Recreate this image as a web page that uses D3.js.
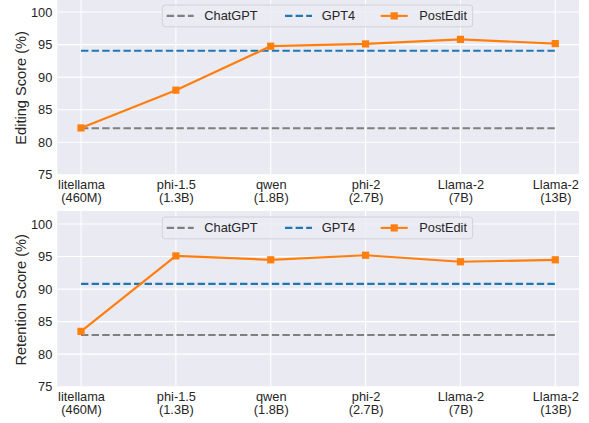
<!DOCTYPE html>
<html>
<head>
<meta charset="utf-8">
<script src="https://cdn.jsdelivr.net/npm/d3@7"></script>
<style>
  html, body { margin: 0; padding: 0; background: #ffffff; }
  svg { display: block; }
  text { font-family: "Liberation Sans", Arial, sans-serif; fill: #262626; }
</style>
</head>
<body>
<svg id="chart" width="589" height="423"></svg>
<script>
// ---- data ----
const modelNames = ["litellama", "phi-1.5", "qwen", "phi-2", "Llama-2", "Llama-2"];
const modelSizes = ["(460M)", "(1.3B)", "(1.8B)", "(2.7B)", "(7B)", "(13B)"];
const yTicks = [75, 80, 85, 90, 95, 100];

const editingChatGPT = 82.15;
const editingGPT4 = 94.05;
const editingPostEdit = [82.2, 88.0, 94.75, 95.1, 95.8, 95.15];

const retentionChatGPT = 82.95;
const retentionGPT4 = 90.8;
const retentionPostEdit = [83.5, 95.1, 94.5, 95.2, 94.2, 94.5];

const seriesNames = ["ChatGPT", "GPT4", "PostEdit"];
const colors = { ChatGPT: "#7f7f7f", GPT4: "#1f77b4", PostEdit: "#ff7f0e" };

const panels = [
  { label: "Editing Score (%)", chatgpt: editingChatGPT, gpt4: editingGPT4, post: editingPostEdit, top: -1, bottom: 174.8 },
  { label: "Retention Score (%)", chatgpt: retentionChatGPT, gpt4: retentionGPT4, post: retentionPostEdit, top: 211, bottom: 386.7 }
];

const svg = d3.select("#chart");
const left = 57.3, right = 579;
const idx = d3.range(modelNames.length);
const x = d3.scalePoint().domain(idx).range([left, right]).padding(0.25);

const dash = "7.4,3.2";

panels.forEach(p => {
  const y = d3.scaleLinear().domain([75, 102]).range([p.bottom, p.top]);
  const g = svg.append("g");

  // background
  g.append("rect").attr("x", left).attr("y", y(102)).attr("width", right - left)
    .attr("height", y(75) - y(102)).attr("fill", "#eaeaf2");

  // grid
  g.selectAll(".hg").data(yTicks).enter().append("line")
    .attr("x1", left).attr("x2", right).attr("y1", d => y(d)).attr("y2", d => y(d))
    .attr("stroke", "#ffffff").attr("stroke-width", 1.1);
  g.selectAll(".vg").data(idx).enter().append("line")
    .attr("x1", d => x(d)).attr("x2", d => x(d)).attr("y1", y(75)).attr("y2", y(102))
    .attr("stroke", "#ffffff").attr("stroke-width", 1.1);

  // y axis
  const ya = g.append("g").attr("transform", `translate(${left},0)`)
    .call(d3.axisLeft(y).tickValues(yTicks).tickSize(0).tickPadding(5));
  ya.select(".domain").remove();
  ya.selectAll("text").style("font-family", '"Liberation Sans", Arial, sans-serif')
    .style("font-size", "12.8px").attr("fill", "#262626");

  // x axis (two-line labels as separate text elements)
  const xa = g.append("g").attr("transform", `translate(0,${y(75)})`)
    .call(d3.axisBottom(x).tickSize(0).tickPadding(0).tickFormat(""));
  xa.select(".domain").remove();
  xa.selectAll(".tick").each(function(d) {
    const tk = d3.select(this);
    tk.select("text").remove();
    tk.append("text").attr("x", 0).attr("y", 14.6).attr("text-anchor", "middle")
      .style("font-size", "12.8px").text(modelNames[d]);
    tk.append("text").attr("x", 0).attr("y", 27.4).attr("text-anchor", "middle")
      .style("font-size", "12.8px").text(modelSizes[d]);
  });

  // y label
  g.append("text")
    .attr("transform", `translate(21,${(y(75) + y(102)) / 2 + 1}) rotate(-90)`)
    .attr("text-anchor", "middle").attr("dy", "0.35em").style("font-size", "14.6px")
    .text(p.label);

  // reference lines
  g.append("line").attr("x1", x(0)).attr("x2", x(idx.length - 1))
    .attr("y1", y(p.chatgpt)).attr("y2", y(p.chatgpt))
    .attr("stroke", colors.ChatGPT).attr("stroke-width", 2.1).attr("stroke-dasharray", dash);
  g.append("line").attr("x1", x(0)).attr("x2", x(idx.length - 1))
    .attr("y1", y(p.gpt4)).attr("y2", y(p.gpt4))
    .attr("stroke", colors.GPT4).attr("stroke-width", 2.1).attr("stroke-dasharray", dash);

  // PostEdit line
  const line = d3.line().x((d, i) => x(i)).y(d => y(d));
  g.append("path").datum(p.post).attr("d", line).attr("fill", "none")
    .attr("stroke", colors.PostEdit).attr("stroke-width", 2.2);
  const ms = 7.2;
  g.selectAll(".mk").data(p.post).enter().append("rect")
    .attr("x", (d, i) => x(i) - ms / 2).attr("y", d => y(d) - ms / 2)
    .attr("width", ms).attr("height", ms).attr("fill", colors.PostEdit);

  // legend
  const ly = y(102) + 6;
  const lg = g.append("g").attr("transform", `translate(162.3,${ly})`);
  lg.append("rect").attr("x", 0).attr("y", 0).attr("width", 310.4).attr("height", 21.8)
    .attr("rx", 3).attr("fill", "#ebebf3").attr("fill-opacity", 0.85)
    .attr("stroke", "#d2d2d8").attr("stroke-width", 1);
  const entries = [
    { name: "ChatGPT", lx: 4.4, tx: 42 },
    { name: "GPT4", lx: 122.7, tx: 159.4 },
    { name: "PostEdit", lx: 218.4, tx: 257 }
  ];
  entries.forEach(e => {
    const cy = 10.9;
    const l = lg.append("line").attr("x1", e.lx).attr("x2", e.lx + 27)
      .attr("y1", cy).attr("y2", cy).attr("stroke", colors[e.name]).attr("stroke-width", 2.1);
    if (e.name !== "PostEdit") l.attr("stroke-dasharray", dash);
    else lg.append("rect").attr("x", e.lx + 13.5 - ms / 2).attr("y", cy - ms / 2)
      .attr("width", ms).attr("height", ms).attr("fill", colors.PostEdit);
    lg.append("text").attr("x", e.tx).attr("y", cy).attr("dy", "0.35em")
      .style("font-size", "12.8px").text(e.name);
  });
});
</script>
</body>
</html>
